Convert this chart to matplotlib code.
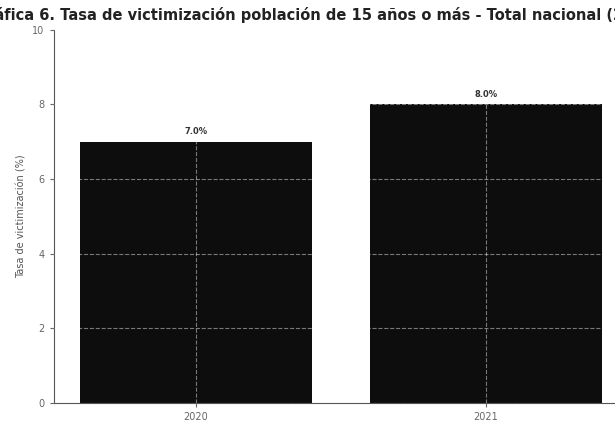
import matplotlib
matplotlib.use('Agg')
import matplotlib.pyplot as plt

years = ['2020', '2021']
rates = [7.0, 8.0]
labels = ['7.0%', '8.0%']
title = 'Gráfica 6. Tasa de victimización población de 15 años o más - Total nacional (2020-2021)'

fig = plt.figure(figsize=(6.15, 4.21), dpi=100)
ax = fig.add_axes([0.087, 0.043, 0.934, 0.886])

bars = ax.bar(years, rates, width=0.8, color='#0d0d0d', zorder=1)
ax.bar_label(bars, labels=labels, padding=4, fontsize=6, fontweight='bold', color='#333333')

ax.set_ylim(0, 10)
ax.set_yticks([0, 2, 4, 6, 8, 10])
ax.set_ylabel('Tasa de victimización (%)', fontsize=7, color='#555555')
ax.tick_params(labelsize=7, colors='#666666', length=3)
# grid only shows over the dark bars
ax.grid(True, linestyle='--', color='white', linewidth=0.8, alpha=0.45, zorder=2)
ax.set_axisbelow(False)
for s in ['top', 'right']:
    ax.spines[s].set_visible(False)
for s in ['left', 'bottom']:
    ax.spines[s].set_color('#555555')

ax.set_title(title, fontsize=10.5, fontweight='bold', color='#222222', pad=7)

fig.savefig('out.png', dpi=100)
